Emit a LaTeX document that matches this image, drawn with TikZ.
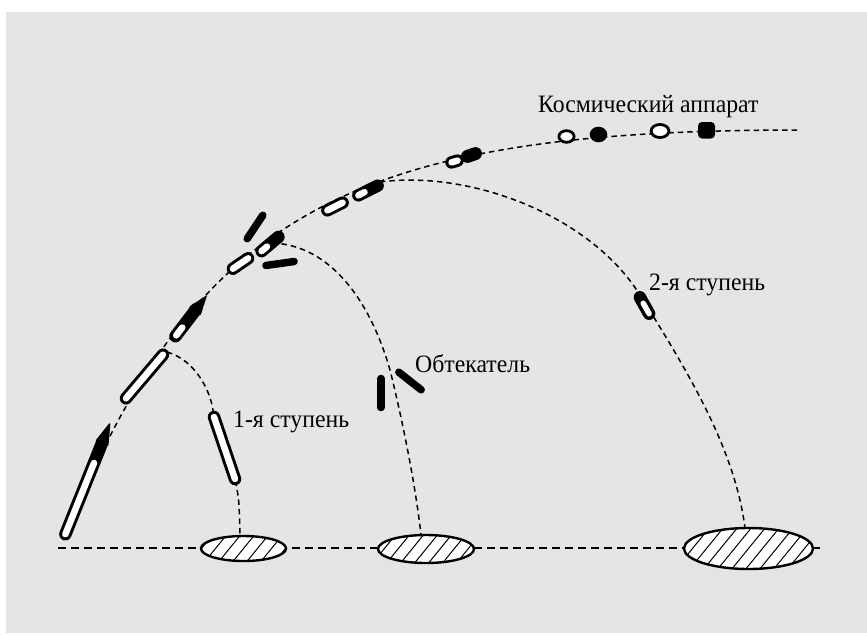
\documentclass[tikz,border=0pt]{standalone}
\usepackage{fontspec}
\setmainfont{Liberation Serif}
\begin{document}
\begin{tikzpicture}[x=1pt,y=-1pt,
  traj/.style={line width=1.5pt,dash pattern=on 5.5pt off 4pt},
  ground/.style={line width=2.2pt,dash pattern=on 8pt off 5pt},
  shell/.style={line width=12.5pt,line cap=round},
  inner/.style={white,line width=6.5pt,line cap=round},
  stick/.style={line width=7.5pt,line cap=round},
  lbl/.style={font=\fontsize{25}{29}\selectfont,inner sep=0pt,anchor=base west}]
\useasboundingbox (0,0) rectangle (867,635);
\fill[white] (0,0) rectangle (867,635);
\fill[fill={rgb,255:red,227;green,228;blue,230}] (6,12) rectangle (867,633);
\fill[fill={rgb,255:red,229;green,229;blue,228}] (58,121) rectangle (715,560);

% ground line and impact zones
\draw[ground] (58,548) -- (822,548);
\foreach \cx/\cy/\rx/\ry in {243.5/548.5/42.5/12.5, 426/549/48/14, 748.5/548.5/64.5/20.5}{
  \fill[white] (\cx,\cy) ellipse [x radius=\rx, y radius=\ry];
  \begin{scope}
    \clip (\cx,\cy) ellipse [x radius=\rx, y radius=\ry];
    \foreach \i in {-126,-112,...,126}
      \draw[line width=1pt] (\cx+\i-22,\cy+27) -- (\cx+\i+22,\cy-27);
  \end{scope}
  \draw[line width=2.4pt] (\cx,\cy) ellipse [x radius=\rx, y radius=\ry];
}

% flight paths
\draw[traj] (63,540) .. controls (195,212) and (350,130) .. (800,130);
\draw[traj] (167,352) .. controls (195,360) and (210,390) .. (213,410)
            -- (236,484) .. controls (239,500) .. (240,535);
\draw[traj] (272,243) .. controls (330,245) and (370,300) .. (390,370)
            .. controls (400,410) and (415,480) .. (421,535);
\draw[traj] (380,182) .. controls (470,170) and (590,215) .. (640,295)
            .. controls (690,375) and (735,450) .. (745,528);

% launch vehicle
\draw[shell] (65.4,534.2) -- (101.8,443.5);
\fill[line join=round,draw,line width=1.5pt] (107.8,444.9) -- (109.6,424) -- (96.6,440.4) -- cycle;
\draw[inner] (65.4,534.2) -- (94,463);

% first stage at separation
\draw[shell] (126,398.3) -- (163,354.7);
\draw[inner] (126,398.3) -- (163,354.7);

% upper composite
\draw[shell] (175.5,336.2) -- (196.2,309.2);
\fill[line join=round,draw,line width=1.5pt] (199.9,314.5) -- (206,296.5) -- (190.1,307.1) -- cycle;
\draw[inner] (176.2,335.4) -- (182.3,327.5);

% fairing separation
\draw[shell] (232.9,268.7) -- (248.1,258.3);
\draw[inner] (232.9,268.7) -- (248.1,258.3);
\draw[shell] (261.6,251.1) -- (278.4,236.9);
\draw[inner] (261.6,251.1) -- (267,246.6);
\draw[stick] (247.2,238.7) -- (262.8,215.3);
\draw[stick] (265.9,265.5) -- (294.1,261.5);

% second stage with spacecraft
\draw[shell] (327.4,210.3) -- (342.6,202.7);
\draw[inner] (327.4,210.3) -- (342.6,202.7);
\draw[shell] (358.4,195.3) -- (377.6,185.7);
\draw[inner] (358.4,195.3) -- (364.5,192.2);

\draw[shell] (451.5,162.4) -- (457.5,160.6);
\draw[inner] (451.5,162.4) -- (457.5,160.6);
\draw[shell,line width=13pt] (467.5,156.4) -- (475.5,153.6);

% spacecraft alone
\draw[line width=2.8pt,fill=white] (566.5,136.5) ellipse [x radius=7.6, y radius=5.8];
\fill (598.5,134.5) ellipse [x radius=8.8, y radius=7.8];
\draw[line width=2.8pt,fill=white] (660,131) ellipse [x radius=8.9, y radius=6.5];
\fill[rounded corners=4pt] (698,122) rectangle (715,138.5);

% falling first stage
\draw[shell] (214,417) -- (235,479);
\draw[inner] (214,417) -- (235,479);

% fairing halves
\draw[stick] (381,378.5) -- (381,407.5);
\draw[stick] (398.8,372.2) -- (421.2,389.8);

% falling second stage
\draw[shell] (639.9,297.3) -- (649.1,313.7);
\draw[inner,line width=5.5pt] (643.2,303.2) -- (649.1,313.7);

% labels
\node[lbl] (spacecraft) at (538,112) {\scalebox{0.95}[1]{Космический аппарат}};
\node[lbl] (fairing) at (415,372) {\scalebox{0.95}[1]{Обтекатель}};
\node[lbl] (stage1) at (233,427) {\scalebox{0.95}[1]{1-я ступень}};
\node[lbl] (stage2) at (649,290) {\scalebox{0.95}[1]{2-я ступень}};
\end{tikzpicture}
\end{document}
